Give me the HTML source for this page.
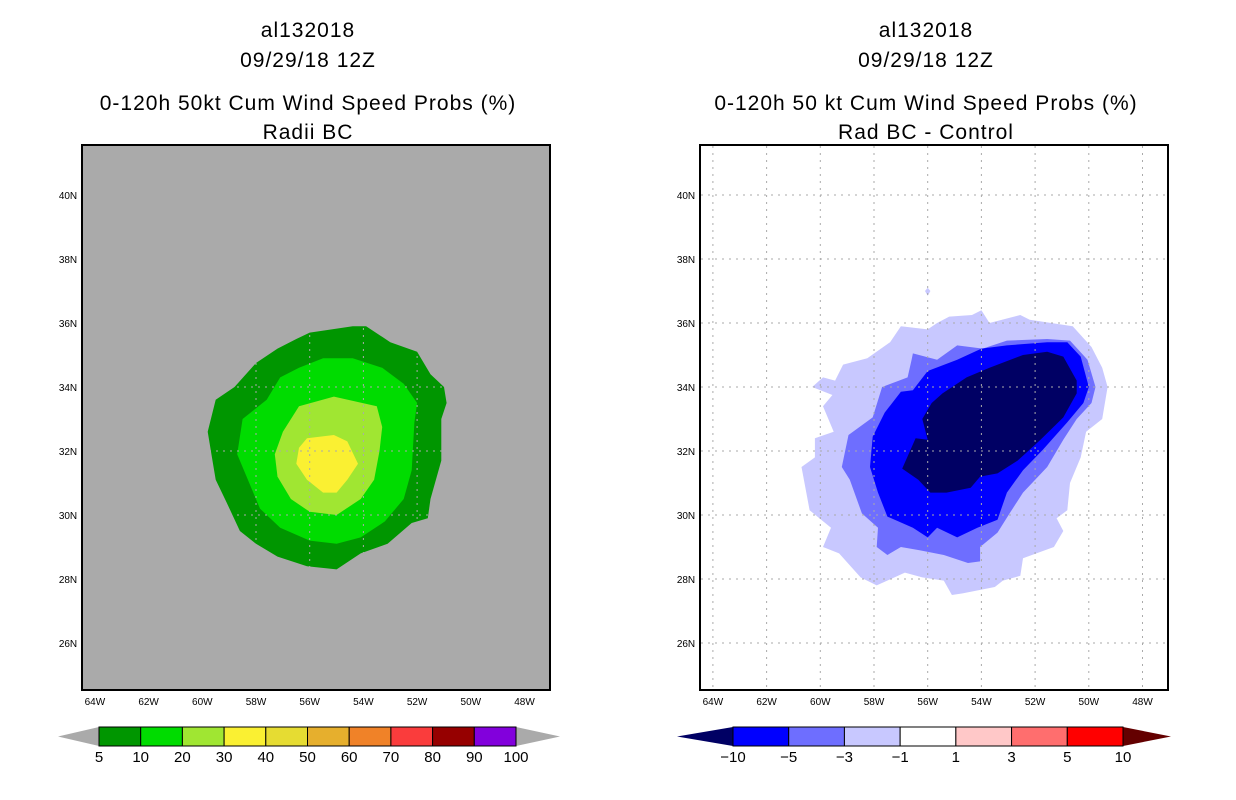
<!DOCTYPE html>
<html><head><meta charset="utf-8"><style>
html,body{margin:0;padding:0;background:#fff;}
svg{display:block;font-family:"Liberation Sans",sans-serif;}
</style></head><body>
<svg id="s" width="1236" height="800" viewBox="0 0 1236 800" xmlns="http://www.w3.org/2000/svg">
<g id="titles" font-size="21" text-anchor="middle" fill="#000" letter-spacing="1">
<text x="308" y="37">al132018</text>
<text x="308" y="67">09/29/18 12Z</text>
<text x="308" y="110">0-120h 50kt Cum Wind Speed Probs (%)</text>
<text x="308" y="139">Radii BC</text>
<text x="926" y="37">al132018</text>
<text x="926" y="67">09/29/18 12Z</text>
<text x="926" y="110">0-120h 50 kt Cum Wind Speed Probs (%)</text>
<text x="926" y="139">Rad BC - Control</text>
</g>
</svg>
<script>
// ---- data (lonW, latN) ----
const lonTicks = [64,62,60,58,56,54,52,50,48];
const latTicks = [26,28,30,32,34,36,38,40];
const leftLevels = ["5","10","20","30","40","50","60","70","80","90","100"];
const leftColors = ["#009600","#00dc00","#a0e632","#faf032","#e6dc32","#e6af2d","#f08228","#fa3c3c","#960000","#8200dc"];
const rightLevels = ["-10","-5","-3","-1","1","3","5","10"];
const rightColors = ["#000064","#0000ff","#6e6eff","#c8c8ff","#ffffff","#ffc8c8","#ff6e6e","#ff0000"];
const left5 = [[56.0,35.7],[54.4,35.9],[53.9,35.9],[53.0,35.4],[52.0,35.1],[51.5,34.4],[51.0,34.0],[50.9,33.5],[51.1,33.0],[51.1,31.7],[51.5,30.5],[51.6,29.9],[52.2,29.75],[53.1,29.1],[54.1,28.8],[55.0,28.3],[56.1,28.4],[57.2,28.7],[58.0,29.1],[58.6,29.5],[59.1,30.4],[59.5,31.1],[59.6,31.6],[59.8,32.6],[59.5,33.6],[58.8,34.0],[58.0,34.75],[57.2,35.2],[56.5,35.5]];
const left10 = [[55.5,34.9],[54.4,34.9],[53.3,34.6],[52.5,34.1],[52.0,33.5],[52.1,32.9],[52.2,31.4],[52.5,30.5],[53.2,29.8],[54.1,29.3],[55.0,29.1],[56.0,29.2],[57.1,29.6],[57.85,30.2],[58.3,31.1],[58.7,31.9],[58.5,33.0],[57.6,33.6],[57.1,34.3],[56.4,34.6]];
const left20 = [[56.4,33.4],[55.1,33.7],[53.5,33.4],[53.3,32.75],[53.4,32.0],[53.6,31.1],[54.1,30.5],[55.0,30.0],[56.0,30.1],[56.7,30.5],[57.2,31.2],[57.3,31.9],[57.0,32.6]];
const left30 = [[56.1,32.4],[55.1,32.5],[54.6,32.3],[54.2,31.6],[54.6,31.1],[55.0,30.7],[55.5,30.7],[56.1,31.1],[56.5,31.6],[56.4,32.1]];
const rightM1 = [[60.3,34.0],[59.9,34.3],[59.45,34.2],[59.15,34.7],[58.25,34.9],[57.4,35.4],[57.0,35.9],[56.0,35.8],[55.65,36.0],[55.2,36.2],[54.35,36.25],[54.0,36.4],[53.7,36.0],[52.55,36.25],[52.2,36.1],[50.6,35.9],[49.9,35.25],[49.5,34.6],[49.3,34.0],[49.5,33.0],[50.1,32.6],[50.3,31.8],[50.7,31.0],[50.8,30.15],[51.2,29.9],[50.95,29.5],[51.3,29.0],[52.45,28.65],[52.55,28.1],[53.2,27.95],[53.5,27.75],[54.7,27.55],[55.1,27.5],[55.4,27.95],[56.2,28.05],[56.85,28.2],[57.9,27.8],[58.5,28.05],[59.3,28.8],[59.9,29.0],[59.6,29.6],[60.4,30.15],[60.7,31.5],[60.2,31.8],[60.2,32.4],[59.5,32.6],[59.9,33.4],[59.55,33.75]];
const rightM3 = [[56.55,35.05],[55.65,34.85],[54.9,35.3],[53.95,35.2],[53.05,35.45],[51.55,35.5],[50.7,35.45],[50.05,34.85],[49.75,34.0],[49.9,33.5],[50.45,33.0],[50.95,32.35],[51.55,31.5],[52.45,30.7],[52.95,30.05],[53.4,29.45],[54.05,29.0],[54.05,28.55],[54.5,28.5],[55.4,28.75],[56.3,28.9],[57.0,29.0],[57.5,28.75],[57.9,29.0],[57.85,29.6],[58.45,30.05],[58.9,31.1],[59.2,31.5],[58.95,32.5],[58.05,33.05],[57.7,34.0],[56.75,34.3],[56.6,34.85]];
const rightM5 = [[56.0,34.5],[54.9,34.85],[54.0,35.2],[53.05,35.3],[51.55,35.4],[50.8,35.4],[50.3,34.95],[50.0,34.0],[50.2,33.5],[50.8,32.9],[51.7,32.05],[52.45,31.4],[53.05,30.7],[53.4,29.85],[54.15,29.6],[54.9,29.3],[55.65,29.6],[56.0,29.3],[56.55,29.6],[57.5,29.95],[57.85,30.7],[58.15,31.5],[58.05,32.45],[57.6,33.2],[57.0,33.85],[56.55,33.9]];
const rightM10 = [[55.45,33.8],[54.55,34.3],[53.7,34.6],[52.45,35.0],[51.55,35.1],[50.95,34.95],[50.45,34.2],[50.45,33.8],[50.95,33.05],[51.8,32.35],[52.65,31.7],[53.4,31.3],[54.05,31.2],[54.4,30.85],[55.3,30.7],[55.9,30.7],[56.35,31.1],[56.95,31.45],[56.45,32.4],[56.0,32.35],[56.2,33.0],[55.85,33.5]];
const rightBlob = [[56.0,37.1],[55.9,37.0],[56.0,36.85],[56.1,37.0]];

const NS='http://www.w3.org/2000/svg';
const svg=document.getElementById('s');
function mk(tag,attrs,parent){const e=document.createElementNS(NS,tag);for(const k in attrs)e.setAttribute(k,attrs[k]);(parent||svg).appendChild(e);return e;}
function xOf(lonW,off){return off+256+(58-lonW)*26.85;}
function yOf(lat){return 451-(lat-32)*32;}
function poly(pts,off,fill,name,g){
  const d=pts.map(p=>xOf(p[0],off).toFixed(1)+','+yOf(p[1]).toFixed(1)).join(' ');
  const e=mk('polygon',{points:d,fill:fill},g);
  
  
}
function panel(off,bg,contours,prefix){
  const g=mk('g',{});
  
  
  const bgR=mk('rect',{x:82+off,y:145,width:468,height:545,fill:bg},g);
  
  
  contours.forEach(c=>poly(c[0],off,c[1],c[2],g));
  // grid
  lonTicks.forEach(l=>{const x=xOf(l,off);const e=mk('line',{x1:x,x2:x,y1:146,y2:689,stroke:'#aaaaaa','stroke-width':1,'stroke-dasharray':'2,5'},g);
    
    
    const t=mk('text',{x:x,y:705,'font-size':10,'text-anchor':'middle'},g);t.textContent=l+'W';
    
    });
  latTicks.forEach(l=>{const y=yOf(l);const e=mk('line',{x1:83+off,x2:549+off,y1:y,y2:y,stroke:'#aaaaaa','stroke-width':1,'stroke-dasharray':'2,5'},g);
    
    
    const t=mk('text',{x:68+off,y:y+4,'font-size':10,'text-anchor':'middle'},g);t.textContent=l+'N';
    
    });
  const fr=mk('rect',{x:82+off,y:145,width:468,height:545,fill:'none',stroke:'#000','stroke-width':2},g);
  
  
}
panel(0,'#aaaaaa',[[left5,leftColors[0],'contour-5'],[left10,leftColors[1],'contour-10'],[left20,leftColors[2],'contour-20'],[left30,leftColors[3],'contour-30']],'left');
panel(618,'#ffffff',[[rightM1,rightColors[3],'contour-minus1'],[rightM3,rightColors[2],'contour-minus3'],[rightM5,rightColors[1],'contour-minus5'],[rightM10,rightColors[0],'contour-minus10'],[rightBlob,rightColors[3],'contour-blob']],'right');

function colorbar(x0,x1,colors,labels,leftTip,rightTip,lc,rc,prefix){
  const g=mk('g',{});
  
  
  const y0=727,y1=746,ym=736.5;const w=(x1-x0)/colors.length;
  const lt=mk('polygon',{points:`${leftTip},${ym} ${x0},${y0} ${x0},${y1}`,fill:lc},g);
  
  
  const rt=mk('polygon',{points:`${rightTip},${ym} ${x1},${y0} ${x1},${y1}`,fill:rc},g);
  
  
  colors.forEach((c,i)=>{const r=mk('rect',{x:x0+i*w,y:y0,width:w,height:y1-y0,fill:c,stroke:'#000','stroke-width':1},g);
    
    });
  labels.forEach((l,i)=>{const t=mk('text',{x:x0+i*w,y:762,'font-size':15,'text-anchor':'middle'},g);t.textContent=l.replace('-','\u2212');
    
    });
}
colorbar(99,516,leftColors,leftLevels,58,560,'#aaaaaa','#aaaaaa','left');
colorbar(733,1123,rightColors.slice(1,8),rightLevels,677,1171,'#000064','#640000','right');
// fix: right bar boxes are -10..10 with 7 boxes
</script>
</body></html>
